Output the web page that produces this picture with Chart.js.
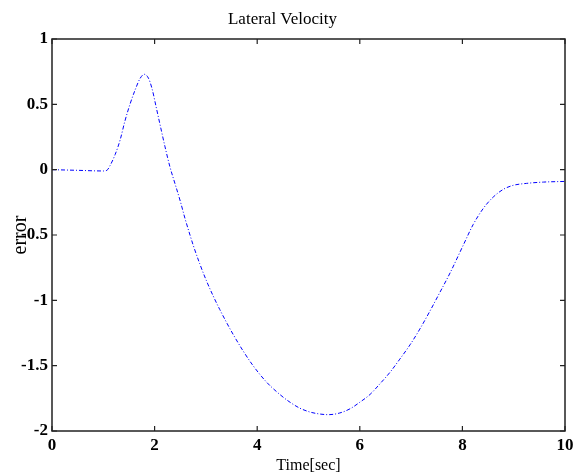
<!DOCTYPE html>
<html>
<head>
<meta charset="utf-8">
<script src="https://cdn.jsdelivr.net/npm/chart.js@4.4.1/dist/chart.umd.min.js"></script>
<style>
html, body { margin: 0; padding: 0; background: #fff; }
</style>
</head>
<body>
<canvas id="lateral-canvas" width="579" height="474"></canvas>
<script>
const timeSec = [
    0, 0.5, 1.0, 1.07, 1.13, 1.23, 1.33, 1.42, 1.52, 1.62, 1.72, 1.8, 1.88, 1.95,
    2.03, 2.12, 2.2, 2.3, 2.4, 2.5, 2.59, 2.69, 2.75, 2.88, 3.01, 3.14, 3.27, 3.41, 3.53, 3.73, 3.92,
    4.18, 4.44, 4.64, 4.83, 5.03, 5.22, 5.39, 5.61, 5.81,
    6.0, 6.2, 6.39, 6.59, 6.78, 6.98, 7.17, 7.37, 7.56, 7.76,
    8.02, 8.21, 8.41, 8.6, 8.8, 8.99, 9.25, 9.58, 10
];
const lateralError = [
    0, -0.005, -0.01, -0.005, 0.03, 0.115, 0.23, 0.37, 0.50, 0.61, 0.70, 0.73, 0.70, 0.62,
    0.48, 0.32, 0.18, 0.02, -0.11, -0.24, -0.37, -0.5, -0.575, -0.72, -0.85, -0.965, -1.07, -1.175, -1.26, -1.39, -1.50,
    -1.625, -1.72, -1.78, -1.825, -1.855, -1.87, -1.875, -1.862, -1.83,
    -1.78, -1.72, -1.64, -1.55, -1.45, -1.34, -1.22, -1.08, -0.94, -0.79,
    -0.575, -0.42, -0.295, -0.21, -0.15, -0.12, -0.105, -0.095, -0.09
];
const xTicks = [0, 2, 4, 6, 8, 10];
const yTicks = [-2, -1.5, -1, -0.5, 0, 0.5, 1];

const serif = 'Liberation Serif';
Chart.defaults.color = '#000';
Chart.defaults.font.family = serif;

// matlab style box with ticks pointing inwards
const boxTicks = {
    id: 'boxTicks',
    afterDraw(chart) {
        const { ctx, chartArea: a, scales: { x, y } } = chart;
        ctx.save();
        ctx.strokeStyle = '#222';
        ctx.lineWidth = 1.5;
        ctx.strokeRect(a.left, a.top, a.right - a.left, a.bottom - a.top);
        ctx.lineWidth = 1.2;
        ctx.beginPath();
        x.ticks.forEach(t => {
            const px = x.getPixelForValue(t.value);
            ctx.moveTo(px, a.bottom); ctx.lineTo(px, a.bottom - 5);
            ctx.moveTo(px, a.top); ctx.lineTo(px, a.top + 5);
        });
        y.ticks.forEach(t => {
            const py = y.getPixelForValue(t.value);
            ctx.moveTo(a.left, py); ctx.lineTo(a.left + 5, py);
            ctx.moveTo(a.right, py); ctx.lineTo(a.right - 5, py);
        });
        ctx.stroke();
        ctx.restore();
    }
};

const data = {
    datasets: [{
        label: 'error',
        data: timeSec.map((t, i) => ({ x: t, y: lateralError[i] })),
        borderColor: '#0000ff',
        borderWidth: 1,
        borderDash: [4, 2, 1, 2],
        pointRadius: 0,
        fill: false,
        cubicInterpolationMode: 'monotone'
    }]
};

const config = {
    type: 'line',
    data,
    options: {
        responsive: false,
        animation: false,
        layout: { padding: { left: 0, right: 14, top: 0, bottom: 0 } },
        plugins: {
            legend: { display: false },
            tooltip: { enabled: false },
            title: {
                display: true,
                text: 'Lateral Velocity',
                font: { family: serif, size: 17, weight: 'normal' },
                padding: { top: 9, bottom: 9.6 }
            }
        },
        scales: {
            x: {
                type: 'linear',
                min: 0,
                max: 10,
                grid: { display: false, drawTicks: false },
                border: { display: false },
                afterBuildTicks: s => { s.ticks = xTicks.map(v => ({ value: v })); },
                afterFit: s => { s.height = 43; },
                ticks: {
                    padding: 4,
                    maxRotation: 0,
                    autoSkip: false,
                    callback: v => String(v),
                    font: { family: serif, size: 17, weight: 'bold' }
                },
                title: {
                    display: true,
                    text: 'Time[sec]',
                    font: { family: serif, size: 16, weight: 'normal', lineHeight: 1 },
                    padding: { top: 0, bottom: 0 }
                }
            },
            y: {
                min: -2,
                max: 1,
                grid: { display: false, drawTicks: false },
                border: { display: false },
                afterBuildTicks: s => { s.ticks = yTicks.map(v => ({ value: v })); },
                afterFit: s => { s.width = 52; },
                ticks: {
                    padding: 4,
                    autoSkip: false,
                    callback: v => String(v),
                    font: { family: serif, size: 17, weight: 'bold' }
                },
                title: {
                    display: true,
                    text: 'error',
                    font: { family: serif, size: 20, weight: 'normal', lineHeight: 1 },
                    padding: { top: 11, bottom: 0 }
                }
            }
        }
    },
    plugins: [boxTicks]
};

const lateralChart = new Chart(document.getElementById('lateral-canvas'), config);
</script>
</body>
</html>
